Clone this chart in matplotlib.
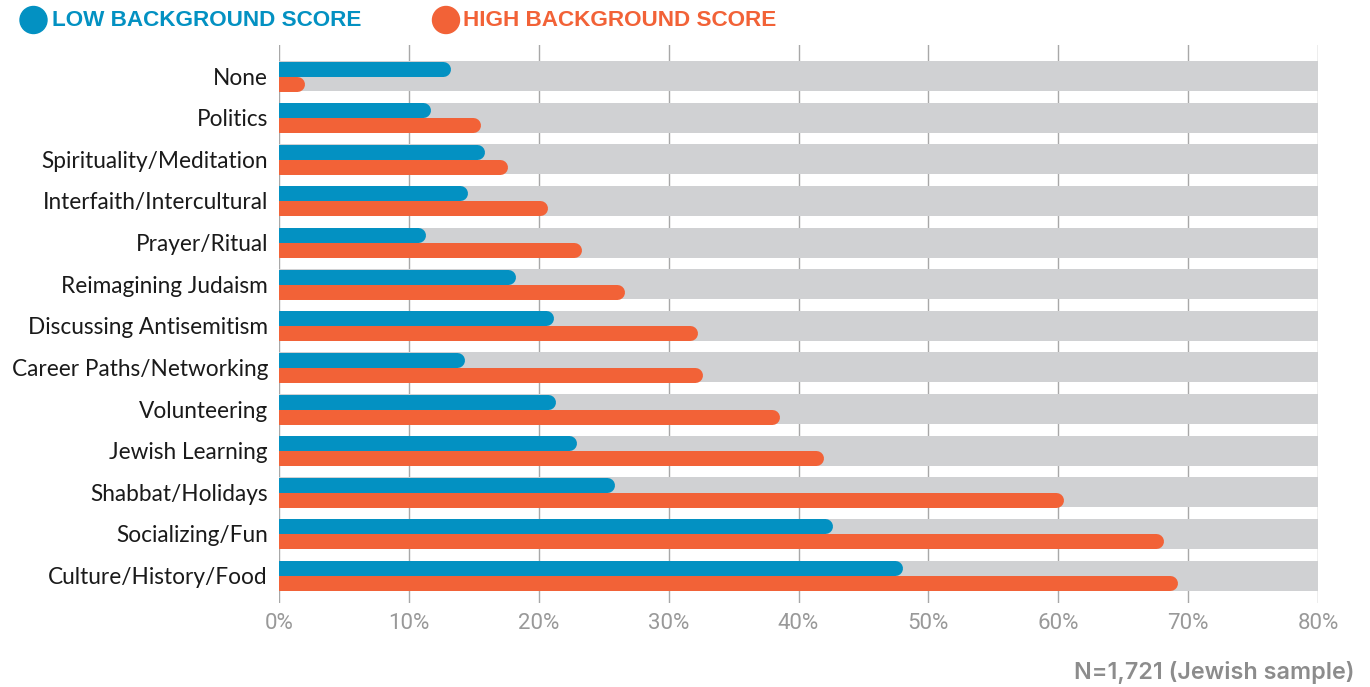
import matplotlib
matplotlib.use("Agg")
import matplotlib.pyplot as plt
import numpy as np

categories = ["None", "Politics", "Spirituality/Meditation", "Interfaith/Intercultural",
              "Prayer/Ritual", "Reimagining Judaism", "Discussing Antisemitism",
              "Career Paths/Networking", "Volunteering", "Jewish Learning",
              "Shabbat/Holidays", "Socializing/Fun", "Culture/History/Food"]
low_scores = [13.2, 11.7, 15.8, 14.5, 11.3, 18.2, 21.1, 14.3, 21.3, 22.9, 25.8, 42.6, 48.0]
high_scores = [2.0, 15.5, 17.6, 20.7, 23.3, 26.6, 32.2, 32.6, 38.5, 41.9, 60.4, 68.1, 69.2]
xticks = [0, 10, 20, 30, 40, 50, 60, 70, 80]
xtick_labels = ["0%", "10%", "20%", "30%", "40%", "50%", "60%", "70%", "80%"]
legend_labels = ["LOW BACKGROUND SCORE", "HIGH BACKGROUND SCORE"]
footnote = "N=1,721 (Jewish sample)"

BLUE = "#0391C2"
ORANGE = "#F26237"
GRAY = "#D0D1D3"

W, H = 1370, 687
fig = plt.figure(figsize=(W / 100, H / 100), dpi=100)
ax_left, ax_right = 279 / W, 1318 / W
ax_top, ax_bot = 1 - 45 / H, 1 - 603 / H
ax = fig.add_axes([ax_left, ax_bot, ax_right - ax_left, ax_top - ax_bot])

XMAX = 80
YTOP, YBOT = -0.745, 12.66
ax.set_xlim(0, XMAX)
ax.set_ylim(YBOT, YTOP)
y = np.arange(len(categories))

# gridlines behind the grey bars
for t in xticks:
    ax.axvline(t, color="#A8A8A8", lw=1.0, zorder=0.5)

# background bars
ax.barh(y, [XMAX] * len(y), height=0.72, color=GRAY, zorder=1, left=0)

# colored bars with rounded ends
ax_px_w = (ax_right - ax_left) * W
px_per_unit = ax_px_w / XMAX
row_px = (ax_top - ax_bot) * H / (YBOT - YTOP)
bar_px = row_px * 0.36
lw_pt = bar_px * 72 / 100
r = (bar_px / 2) / px_per_unit
off = 0.18
ax.hlines(y - off, 0, np.array(low_scores) - r, colors=BLUE, lw=lw_pt,
          capstyle="round", zorder=2)
ax.hlines(y + off, 0, np.array(high_scores) - r, colors=ORANGE, lw=lw_pt,
          capstyle="round", zorder=3)

for s in ax.spines.values():
    s.set_visible(False)

ax.set_yticks(y)
ax.set_yticklabels(categories, fontsize=16.3, family=["Lato", "DejaVu Sans"], color="#1A1A1A")
ax.tick_params(axis="y", length=0, pad=8)
ax.set_xticks(xticks)
ax.set_xticklabels(xtick_labels, fontsize=16, color="#999999",
                   family=["Roboto", "DejaVu Sans"], fontweight="normal")
ax.tick_params(axis="x", length=0, pad=7)

# legend
for (cx, tx, label, col) in [(33.5, 52, legend_labels[0], BLUE), (446, 463, legend_labels[1], ORANGE)]:
    fig.patches.append(matplotlib.patches.Ellipse((cx / W, 1 - 20 / H), 27 / W, 27 / H,
                                                  transform=fig.transFigure, color=col))
    fig.text(tx / W, 1 - 20.5 / H, label, color=col, fontsize=16.2, fontweight="bold",
             family=["Liberation Sans", "DejaVu Sans"], va="center", ha="left")

fig.text(1355 / W, 1 - 672 / H, footnote, color="#8C8C8C", fontsize=16.8,
         fontweight="semibold", family=["Inter", "DejaVu Sans"], ha="right", va="center")

fig.savefig("out.png", dpi=100)
